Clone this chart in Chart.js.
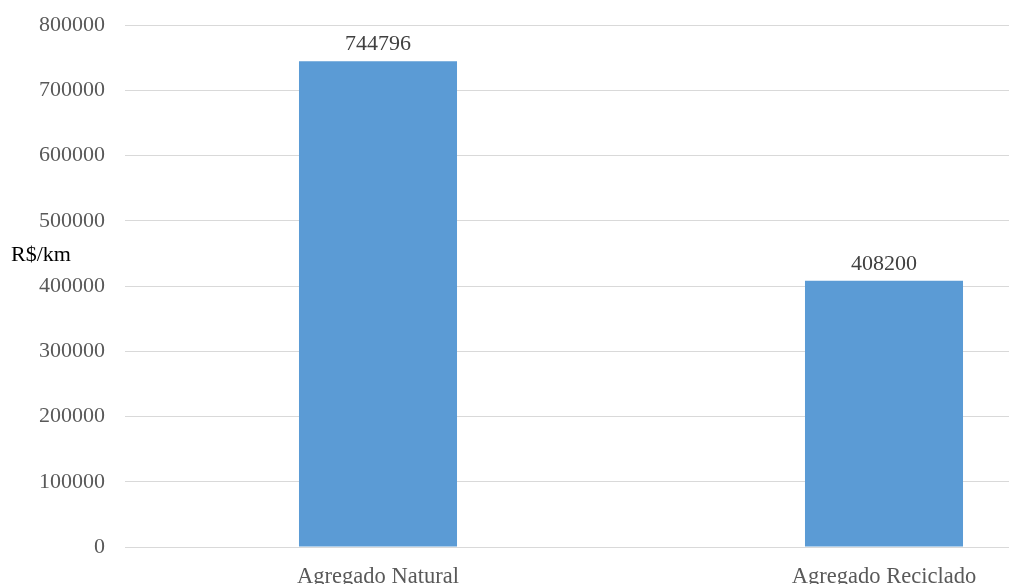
<!DOCTYPE html>
<html>
<head>
<meta charset="utf-8">
<script src="https://cdn.jsdelivr.net/npm/chart.js@4"></script>
<style>
html,body{margin:0;padding:0;background:#fff;overflow:hidden;}
#wrap{width:1009px;height:584px;overflow:hidden;position:relative;}
#box{width:1140px;height:608px;position:absolute;left:0;top:-8px;}
</style>
</head>
<body>
<div id="wrap"><div id="box"><canvas id="c"></canvas></div></div>
<script>
const categories = ["Agregado Natural", "Agregado Reciclado"];
const values = [744796, 408200];
const yTicks = [0, 100000, 200000, 300000, 400000, 500000, 600000, 700000, 800000];
const yUnit = "R$/km";

const FONT = "'Liberation Serif', 'Times New Roman', serif";

const labelPlugin = {
  id: 'labels',
  afterDatasetsDraw(chart) {
    const ctx = chart.ctx;
    const meta = chart.getDatasetMeta(0);
    ctx.save();
    ctx.font = "22px " + FONT;
    ctx.fillStyle = "#404040";
    ctx.textAlign = "center";
    ctx.textBaseline = "alphabetic";
    meta.data.forEach((bar, i) => {
      ctx.fillText(String(chart.data.datasets[0].data[i]), bar.x, bar.y - 11);
    });
    ctx.fillStyle = "#000000";
    ctx.textAlign = "left";
    ctx.fillText(yUnit, 11, 269);
    ctx.restore();
  }
};

new Chart(document.getElementById('c'), {
  type: 'bar',
  data: {
    labels: categories,
    datasets: [{
      data: values,
      backgroundColor: '#5B9BD5',
      borderWidth: 0,
      categoryPercentage: 1,
      barPercentage: 0.3123
    }]
  },
  options: {
    responsive: true,
    maintainAspectRatio: false,
    animation: false,
    layout: { padding: { top: 17, right: 3, left: 0, bottom: 0 } },
    plugins: { legend: { display: false }, tooltip: { enabled: false } },
    scales: {
      x: {
        grid: { display: false, drawTicks: false },
        border: { display: true, color: '#d9d9d9', width: 1 },
        ticks: { color: '#595959', font: { family: FONT, size: 22.5 }, padding: 17, maxRotation: 0 },
        afterFit: s => { s.height = 53; }
      },
      y: {
        min: 0, max: 800000,
        afterBuildTicks: s => { s.ticks = yTicks.map(v => ({ value: v })); },
        grid: { color: '#d9d9d9', drawTicks: false, lineWidth: 1 },
        border: { display: false },
        ticks: { color: '#595959', font: { family: FONT, size: 22 }, padding: 20, callback: v => String(v) },
        afterFit: s => { s.width = 125; }
      }
    }
  },
  plugins: [labelPlugin]
});
</script>
</body>
</html>
